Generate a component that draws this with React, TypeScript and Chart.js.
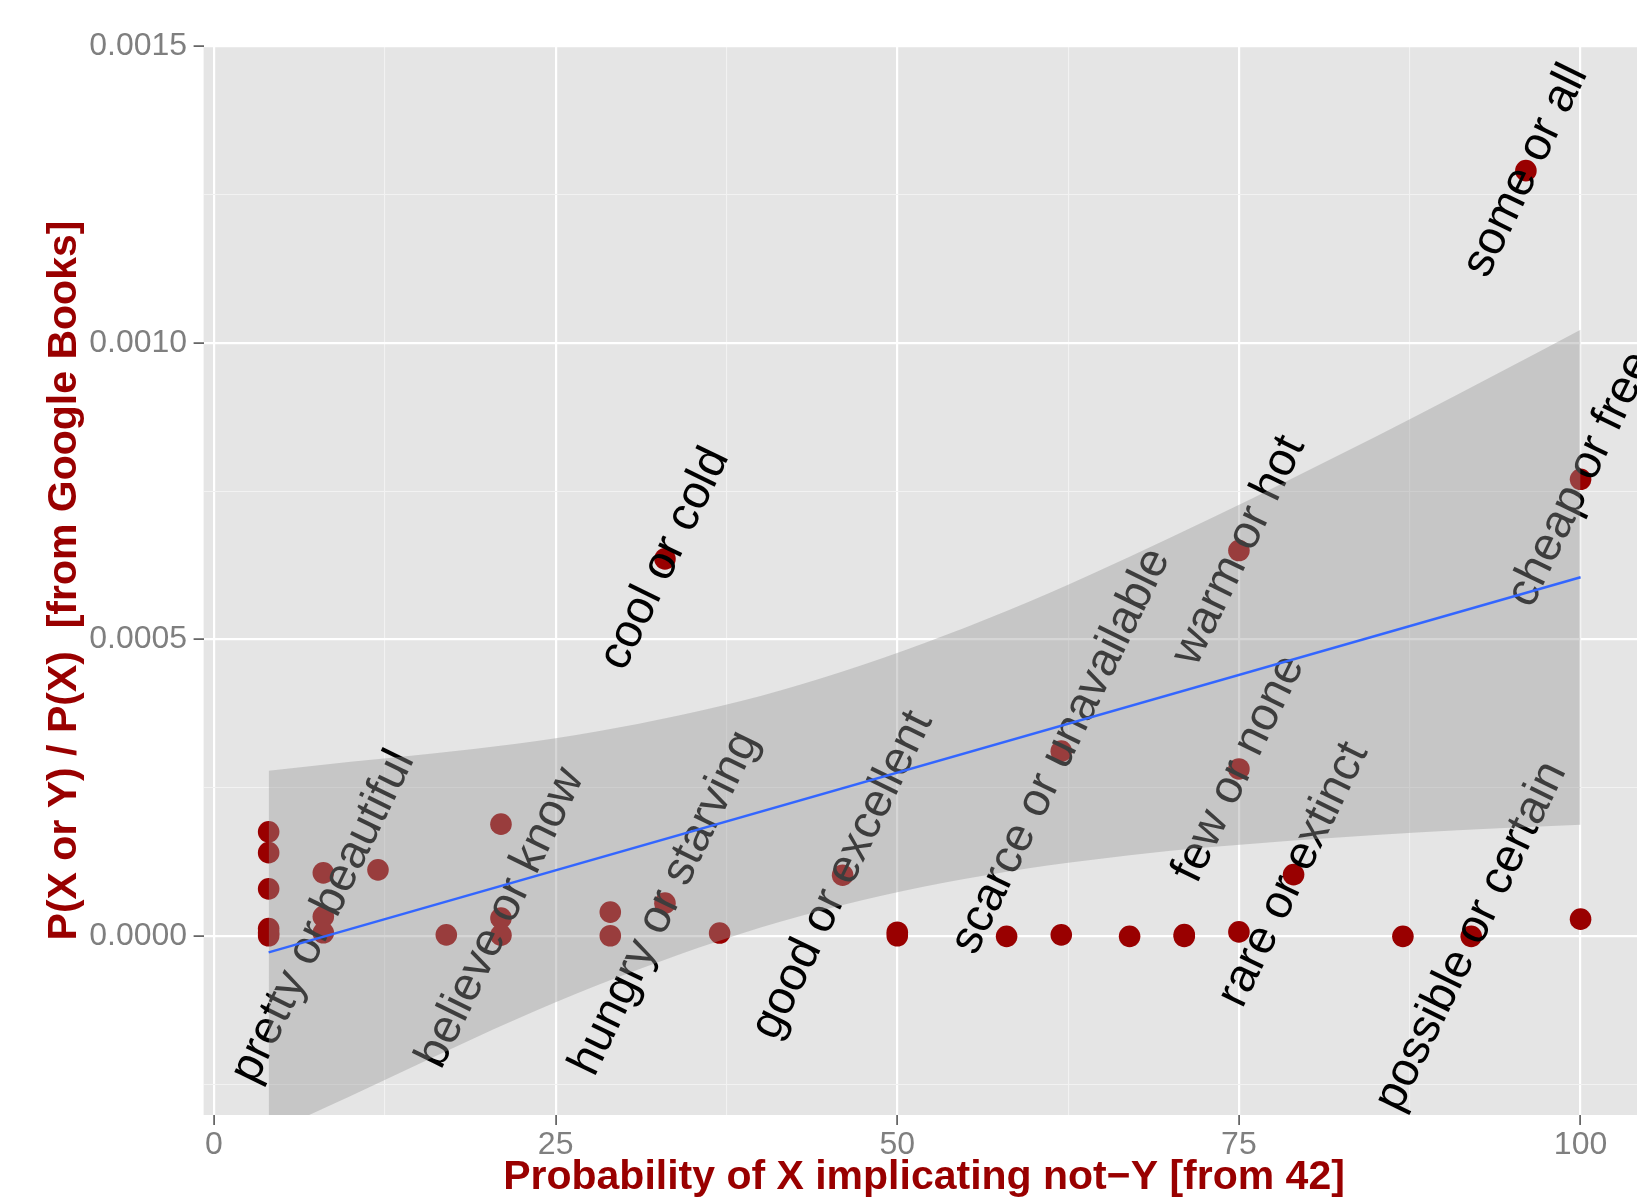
import React, { useEffect, useRef } from 'react';
import { Chart, registerables } from 'chart.js';

Chart.register(...registerables);

// ---- data ----
const pointX = [
  4, 4, 4, 4, 4, 4,
  8, 8, 8,
  12,
  17,
  21, 21, 21,
  29, 29,
  33, 33,
  37,
  46,
  50, 50,
  58,
  62, 62,
  67,
  71, 71,
  75, 75, 75,
  79,
  87,
  92,
  96,
  100, 100,
];
const pointY = [
  0.000176, 0.000141, 0.00008, 0.000013, 0.000006, 0.000001,
  0.000107, 0.0000333, 0.000006,
  0.000112,
  0.0000025,
  0.000189, 0.0000307, 0.000002,
  0.0000408, 0.000001,
  0.0000559, 0.000636,
  0.0000056,
  0.000103,
  0.000007, 0.000001,
  0.0,
  0.0000025, 0.000312,
  0.0,
  0.000003, 0.0,
  0.0000075, 0.000282, 0.00065,
  0.000104,
  0.0,
  0.0,
  0.00129,
  0.000029, 0.00077,
];

const labelText = [
  'pretty or beautiful',
  'believe or know',
  'hungry or starving',
  'cool or cold',
  'good or excellent',
  'scarce or unavailable',
  'warm or hot',
  'few or none',
  'rare or extinct',
  'possible or certain',
  'some or all',
  'cheap or free',
];
const labelX = [8, 21, 33, 33, 46, 62, 75, 75, 79, 92, 96, 100];
const labelY = [
  0.0000333, 0.0000307, 0.0000559, 0.000636, 0.000103, 0.000312,
  0.00065, 0.000282, 0.000104, 0.0, 0.00129, 0.00077,
];

// smoother (linear fit) and its confidence band
const fitX = [4, 100];
const fitY = [-0.000027, 0.000605];
const bandX = [4, 10, 16, 22, 28, 34, 40, 46, 52, 58, 64, 70, 76, 82, 88, 94, 100];
const bandUpper = [
  0.000279, 0.000294, 0.000308, 0.000324, 0.000345, 0.000372, 0.000405, 0.000446,
  0.000494, 0.000548, 0.000608, 0.000672, 0.000738, 0.000807, 0.000877, 0.000949, 0.001022,
];
const bandLower = [
  -0.000332, -0.000269, -0.000204, -0.000141, -0.000083, -0.000031, 0.000015, 0.000053,
  0.000084, 0.000109, 0.000128, 0.000144, 0.000156, 0.000166, 0.000175, 0.000182, 0.000188,
];

const xMajorTicks = [0, 25, 50, 75, 100];
const xMinorTicks = [12.5, 37.5, 62.5, 87.5];
const xTickLabels = ['0', '25', '50', '75', '100'];
const yMajorTicks = [0, 0.0005, 0.001, 0.0015];
const yMinorTicks = [-0.00025, 0.00025, 0.00075, 0.00125];
const yTickLabels = ['0.0000', '0.0005', '0.0010', '0.0015'];

const xTitle = 'Probability of X implicating not\u2212Y [from 42]';
const yTitle = 'P(X or Y) / P(X)  [from Google Books]';

const W = 1637;
const H = 1203;
const FONT = "'Liberation Sans', Arial, Helvetica, sans-serif";

function majorIndex(list: number[], v: number) {
  for (let i = 0; i < list.length; i++) {
    if (Math.abs(list[i] - v) < 1e-9) return i;
  }
  return -1;
}

export default function App() {
  const ref = useRef<HTMLCanvasElement | null>(null);

  useEffect(() => {
    const canvas = ref.current;
    if (!canvas) return;

    const bgPlugin = {
      id: 'panelBg',
      beforeDraw(chart: any) {
        const { ctx, chartArea } = chart;
        ctx.save();
        ctx.fillStyle = '#FFFFFF';
        ctx.fillRect(0, 0, chart.width, chart.height);
        ctx.fillStyle = '#E5E5E5';
        ctx.fillRect(chartArea.left, chartArea.top, chartArea.right - chartArea.left, chartArea.bottom - chartArea.top);
        ctx.restore();
      },
    };

    const labelPlugin = {
      id: 'pointLabels',
      afterDatasetDraw(chart: any, args: any) {
        if (args.index !== 0) return;
        const { ctx, chartArea } = chart;
        const xs = chart.scales.x;
        const ys = chart.scales.y;
        ctx.save();
        ctx.beginPath();
        ctx.rect(chartArea.left, chartArea.top, chartArea.right - chartArea.left, chartArea.bottom - chartArea.top);
        ctx.clip();
        ctx.fillStyle = '#000000';
        ctx.font = `47px ${FONT}`;
        ctx.textAlign = 'center';
        ctx.textBaseline = 'middle';
        for (let i = 0; i < labelText.length; i++) {
          const px = xs.getPixelForValue(labelX[i]);
          const py = ys.getPixelForValue(labelY[i]);
          ctx.save();
          ctx.translate(px, py);
          ctx.rotate((-64 * Math.PI) / 180);
          ctx.fillText(labelText[i], 0, 0);
          ctx.restore();
        }
        ctx.restore();
      },
    };

    const titlePlugin = {
      id: 'axisTitles',
      afterDraw(chart: any) {
        const { ctx, chartArea } = chart;
        ctx.save();
        ctx.fillStyle = '#990000';
        ctx.font = `bold 41px ${FONT}`;
        ctx.textAlign = 'center';
        ctx.textBaseline = 'middle';
        ctx.fillText(xTitle, 924, 1178);
        ctx.translate(65, (chartArea.top + chartArea.bottom) / 2);
        ctx.rotate(-Math.PI / 2);
        ctx.fillText(yTitle, 0, 0);
        ctx.restore();
      },
    };

    const chart = new Chart(canvas, {
      type: 'scatter',
      data: {
        datasets: [
          {
            label: 'points',
            data: pointX.map((x, i) => ({ x, y: pointY[i] })),
            backgroundColor: '#990000',
            borderWidth: 0,
            pointRadius: 10.8,
            pointHoverRadius: 10.8,
            order: 3,
          } as any,
          {
            label: 'lower',
            type: 'line',
            data: bandX.map((x, i) => ({ x, y: bandLower[i] })),
            borderWidth: 0,
            borderColor: 'rgba(0,0,0,0)',
            pointRadius: 0,
            fill: false,
            cubicInterpolationMode: 'monotone',
            order: 2,
          } as any,
          {
            label: 'upper',
            type: 'line',
            data: bandX.map((x, i) => ({ x, y: bandUpper[i] })),
            borderWidth: 0,
            borderColor: 'rgba(0,0,0,0)',
            backgroundColor: 'rgba(153,153,153,0.4)',
            pointRadius: 0,
            fill: '-1',
            cubicInterpolationMode: 'monotone',
            order: 2,
          } as any,
          {
            label: 'fit',
            type: 'line',
            data: fitX.map((x, i) => ({ x, y: fitY[i] })),
            borderColor: '#3366FF',
            borderWidth: 2.4,
            pointRadius: 0,
            fill: false,
            order: 1,
          } as any,
        ],
      },
      options: {
        responsive: false,
        animation: false,
        devicePixelRatio: 1,
        events: [],
        layout: { autoPadding: false, padding: { left: 0, right: 0, top: 46, bottom: 0 } },
        plugins: {
          legend: { display: false },
          tooltip: { enabled: false },
        },
        scales: {
          x: {
            type: 'linear',
            min: -0.76,
            max: 104.13,
            afterBuildTicks: (s: any) => {
              s.ticks = [...xMajorTicks, ...xMinorTicks].sort((a, b) => a - b).map((v) => ({ value: v }));
            },
            afterFit: (s: any) => {
              s.height = H - 1115;
              s.paddingLeft = 0;
              s.paddingRight = 0;
            },
            ticks: {
              autoSkip: false,
              maxRotation: 0,
              padding: 1,
              color: '#7F7F7F',
              font: { family: FONT, size: 32 },
              callback: (v: any) => {
                const i = majorIndex(xMajorTicks, Number(v));
                return i >= 0 ? xTickLabels[i] : '';
              },
            },
            grid: {
              color: (c: any) => (majorIndex(xMajorTicks, c.tick?.value) >= 0 ? '#FFFFFF' : '#F2F2F2'),
              lineWidth: (c: any) => (majorIndex(xMajorTicks, c.tick?.value) >= 0 ? 2.2 : 1.1),
              tickColor: (c: any) => (majorIndex(xMajorTicks, c.tick?.value) >= 0 ? '#555555' : 'rgba(0,0,0,0)'),
              tickLength: 10,
              tickWidth: 1.6,
            },
            border: { display: false },
          },
          y: {
            type: 'linear',
            min: -0.000301,
            max: 0.0015,
            afterBuildTicks: (s: any) => {
              s.ticks = [...yMajorTicks, ...yMinorTicks].sort((a, b) => a - b).map((v) => ({ value: v }));
            },
            afterFit: (s: any) => {
              s.width = 203.6;
              s.paddingTop = 0;
              s.paddingBottom = 0;
            },
            ticks: {
              autoSkip: false,
              padding: 6.5,
              color: '#7F7F7F',
              font: { family: FONT, size: 32 },
              callback: (v: any) => {
                const i = majorIndex(yMajorTicks, Number(v));
                return i >= 0 ? yTickLabels[i] : '';
              },
            },
            grid: {
              color: (c: any) => (majorIndex(yMajorTicks, c.tick?.value) >= 0 ? '#FFFFFF' : '#F2F2F2'),
              lineWidth: (c: any) => (majorIndex(yMajorTicks, c.tick?.value) >= 0 ? 2.2 : 1.1),
              tickColor: (c: any) => (majorIndex(yMajorTicks, c.tick?.value) >= 0 ? '#555555' : 'rgba(0,0,0,0)'),
              tickLength: 10,
              tickWidth: 1.6,
            },
            border: { display: false },
          },
        },
      } as any,
      plugins: [bgPlugin, labelPlugin, titlePlugin],
    });

    return () => {
      chart.destroy();
    };
  }, []);

  return (
    <div style={{ position: 'absolute', left: 0, top: 0, width: W, height: H, background: '#FFFFFF' }}>
      <canvas ref={ref} width={W} height={H} style={{ display: 'block', width: W, height: H }} />
    </div>
  );
}
